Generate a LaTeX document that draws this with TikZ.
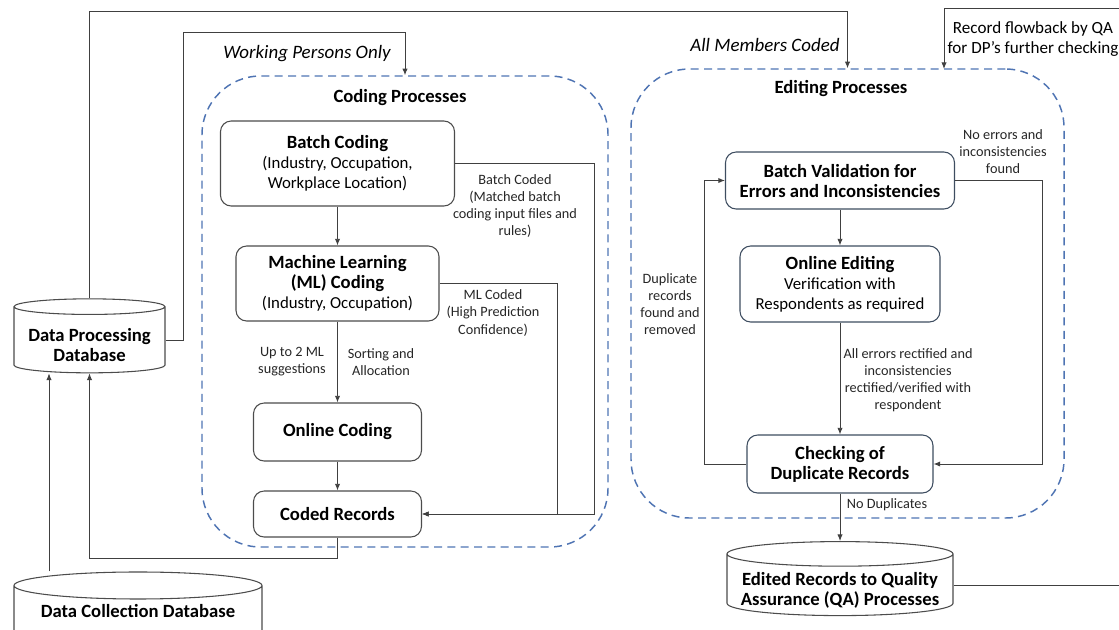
\documentclass[tikz,border=0pt]{standalone}
\usepackage{fontspec}
\setmainfont{Carlito}
\usetikzlibrary{arrows.meta, shapes.geometric}
\definecolor{dashblue}{HTML}{4F74B3}
\definecolor{editgray}{HTML}{3E4D60}
\newcommand{\boxhead}[1]{{\bfseries\fontsize{14}{17.5}\selectfont #1}}

\begin{document}
\begin{tikzpicture}[x=0.75pt, y=-0.75pt, font=\fontsize{12.6}{15}\selectfont]
        % Setup the styles for the boxes and lines
        \tikzset{proc box/.style={draw=black!70,
                                  line width=0.8pt,
                                  rounded corners=8pt,
                                  align=center,
                                  inner sep=0pt}}
        \tikzset{edit box/.style={proc box, draw=editgray}}
        \tikzset{group box/.style={draw=dashblue,
                                   dash pattern=on 6pt off 4pt,
                                   line width=1.1pt,
                                   rounded corners=44pt,
                                   inner sep=0pt}}
        \tikzset{db/.style={cylinder,
                            shape border rotate=90,
                            aspect=0.12,
                            draw=black!70,
                            line width=0.8pt,
                            inner sep=0pt}}
        \tikzset{db text/.style={align=center, inner sep=0pt}}
        \tikzset{flow/.style={draw=black!75,
                              line width=0.7pt,
                              -{Latex[length=5pt,width=4pt]}}}
        \tikzset{note/.style={align=center,
                              text=black!85,
                              font=\fontsize{10.7}{12.8}\selectfont}}

        \useasboundingbox (0,0) rectangle (1119,629);
        \clip (0,0) rectangle (1119,629);

        % Draw the two process groups
        \node[group box, minimum width=406*0.75pt, minimum height=471*0.75pt] at (405,311.5) (codegrp) {};
        \node[group box, minimum width=433*0.75pt, minimum height=449*0.75pt] at (847.5,293.5) (editgrp) {};
        \node[font=\bfseries\fontsize{14}{17}\selectfont] at (400,98) (codetitle) {Coding Processes};
        \node[font=\bfseries\fontsize{14}{17}\selectfont] at (841,89) (edittitle) {Editing Processes};

        % Draw the databases
        \node[db, text width=130*0.75pt, minimum width=151*0.75pt, minimum height=74*0.75pt] at (89.5,340) (dpd) {};
        \node[db text] at (89.5,345.5) (dpdtext) {\boxhead{Data Processing}\\\boxhead{Database}};
        \node[db, text width=225*0.75pt, minimum width=248*0.75pt, minimum height=74*0.75pt] at (138,616) (dcd) {};
        \node[db text] at (138,611) (dcdtext) {\boxhead{Data Collection Database}};
        \node[db, text width=205*0.75pt, minimum width=226*0.75pt, minimum height=74*0.75pt] at (840,585) (er) {};
        \node[db text] at (840,590.5) (ertext) {\boxhead{Edited Records to Quality}\\\boxhead{Assurance (QA) Processes}};

        % Draw the coding boxes
        \node[proc box, minimum width=234*0.75pt, minimum height=85*0.75pt] at (337.5,163.5) (batch)
            {\boxhead{Batch Coding}\\(Industry, Occupation,\\Workplace Location)};
        \node[proc box, minimum width=203*0.75pt, minimum height=75*0.75pt] at (337.5,283.5) (ml)
            {\boxhead{Machine Learning}\\\boxhead{(ML) Coding}\\(Industry, Occupation)};
        \node[proc box, minimum width=168*0.75pt, minimum height=58*0.75pt] at (337.5,432) (online)
            {\boxhead{Online Coding}};
        \node[proc box, minimum width=168*0.75pt, minimum height=46*0.75pt] at (337.5,514) (coded)
            {\boxhead{Coded Records}};

        % Draw the editing boxes
        \node[edit box, minimum width=229*0.75pt, minimum height=57*0.75pt] at (840,180.5) (bv)
            {\boxhead{Batch Validation for}\\\boxhead{Errors and Inconsistencies}};
        \node[edit box, minimum width=200*0.75pt, minimum height=76*0.75pt] at (840,284) (oe)
            {\boxhead{Online Editing}\\Verification with\\Respondents as required};
        \node[edit box, minimum width=186*0.75pt, minimum height=58*0.75pt] at (840,464) (cdr)
            {\boxhead{Checking of}\\\boxhead{Duplicate Records}};

        % Free end of the QA flowback on the group border
        \coordinate (qatop) at (944,69);

        % Connect the boxes with arrows
        \draw[flow] (dpd.north) -- ++(0,-287) -| (editgrp.north);
        \draw[flow] (dpd.east) -| (183,32) -| (codegrp.north);
        \draw[flow] (dcd.north -| 49,0) -- (dpd.south -| 49,0);
        \draw[flow] (coded.south) -- ++(0,21) -| (dpd.south);
        \draw[flow] (batch) -- (ml);
        \draw[flow] (ml) -- (online);
        \draw[flow] (online) -- (coded);
        \draw[flow] (batch.east) -| (594,514) -- (coded.east);
        \draw[flow] (ml.east) -| (557,514) -- (coded.east);
        \draw[flow] (bv) -- (oe);
        \draw[flow] (oe) -- (cdr);
        \draw[flow] (cdr) -- (er);
        \draw[flow] (bv.east) -| (1042,464) -- (cdr.east);
        \draw[flow] (cdr.west) -| (704,180.5) -- (bv.west);
        \draw[flow] (er.east) -| (1126,8) -| (qatop);

        % Labels
        \node[font=\itshape\fontsize{14.2}{17}\selectfont] at (307,54) (workonly) {Working Persons Only};
        \node[font=\itshape\fontsize{14.2}{17}\selectfont] at (765,45) (allcoded) {All Members Coded};
        \node[align=center, font=\fontsize{12.8}{15}\selectfont] at (1033,39) (flowback)
            {Record flowback by QA\\for DP’s further checking};
        \node[note] at (515,206) (batchlbl) {Batch Coded\\(Matched batch\\coding input files and\\rules)};
        \node[note] at (493,313) (mllbl) {ML Coded\\(High Prediction\\Confidence)};
        \node[note] at (292,362) (suglbl) {Up to 2 ML\\suggestions};
        \node[note] at (381,362) (sortlbl) {Sorting and\\Allocation};
        \node[note] at (1003,152) (noerrlbl) {No errors and\\inconsistencies\\found};
        \node[note] at (670,304) (duplbl) {Duplicate\\records\\found and\\removed};
        \node[note] at (908,380.5) (rectlbl) {All errors rectified and\\inconsistencies\\rectified/verified with\\respondent};
        \node[note] at (887,505) (nodulbl) {No Duplicates};
\end{tikzpicture}
\end{document}
